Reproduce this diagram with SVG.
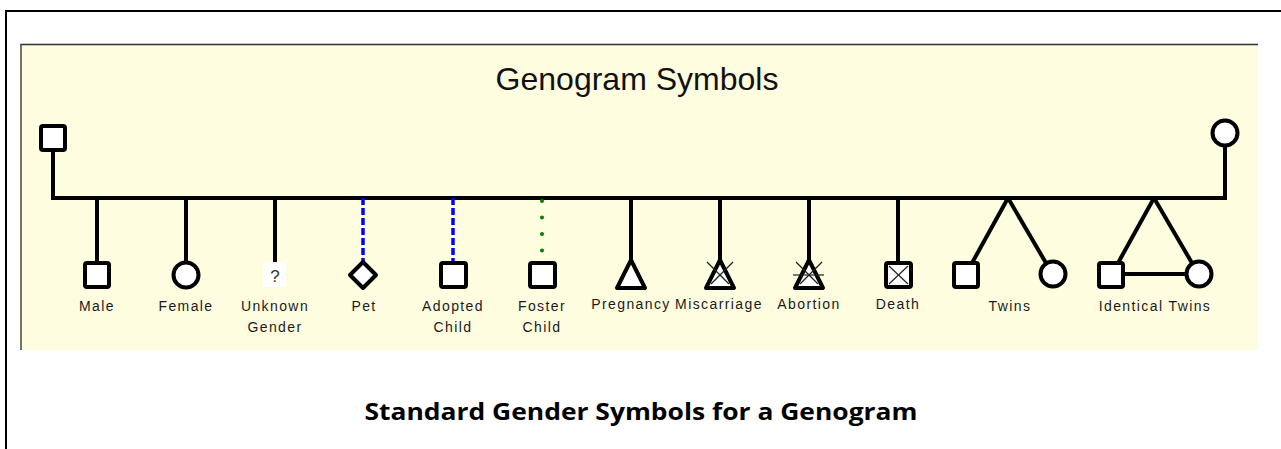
<svg xmlns="http://www.w3.org/2000/svg" width="1281" height="449" viewBox="0 0 1281 449">
<style>
.sym{fill:#ffffff;stroke:#000;stroke-width:4;stroke-linejoin:round}
.ln{stroke:#000;stroke-width:4;fill:none}
.thin{stroke:#222;stroke-width:1.2;fill:none}
.lbl{font-family:"Liberation Sans",Arial,sans-serif;font-size:14px;letter-spacing:1.4px;fill:#1a1a1a;text-anchor:middle}
</style>
<rect x="0" y="0" width="1281" height="449" fill="#ffffff"/>
<line x1="5" y1="11" x2="1281" y2="11" stroke="#000" stroke-width="2"/>
<line x1="6" y1="10" x2="6" y2="449" stroke="#000" stroke-width="2"/>
<rect x="20.5" y="44" width="1237.5" height="306" fill="#fffde0"/>
<line x1="20.5" y1="44.5" x2="1258" y2="44.5" stroke="#333" stroke-width="1.5"/>
<line x1="21" y1="44" x2="21" y2="350" stroke="#444" stroke-width="1.5"/>
<text x="637" y="90" font-family="Liberation Sans,Arial,sans-serif" font-size="32" fill="#111" text-anchor="middle">Genogram Symbols</text>

<g id="connectors">
<line class="ln" x1="53" y1="150" x2="53" y2="198"/>
<line class="ln" x1="1225" y1="146" x2="1225" y2="198"/>
<line class="ln" x1="51" y1="198" x2="1227" y2="198"/>
<line class="ln" x1="97" y1="198" x2="97" y2="262"/>
<line class="ln" x1="186" y1="198" x2="186" y2="262"/>
<line class="ln" x1="275" y1="198" x2="275" y2="262"/>
<line x1="363" y1="198" x2="363" y2="262" stroke="#0000ff" stroke-width="3.5" stroke-dasharray="7 3"/>
<line x1="453" y1="198" x2="453" y2="262" stroke="#0000ff" stroke-width="3.5" stroke-dasharray="7 3"/>
<line x1="542" y1="201" x2="542" y2="258" stroke="#008000" stroke-width="4" stroke-linecap="round" stroke-dasharray="0 16.5"/>
<line class="ln" x1="631" y1="198" x2="631" y2="260"/>
<line class="ln" x1="720" y1="198" x2="720" y2="260"/>
<line class="ln" x1="809" y1="198" x2="809" y2="260"/>
<line class="ln" x1="898" y1="198" x2="898" y2="262"/>
<line class="ln" x1="1008" y1="198" x2="972" y2="263"/>
<line class="ln" x1="1008" y1="198" x2="1046" y2="263"/>
<line class="ln" x1="1154" y1="198" x2="1118" y2="263"/>
<line class="ln" x1="1154" y1="198" x2="1192" y2="263"/>
<line class="ln" x1="1123" y1="274" x2="1186" y2="274"/>
</g>

<g id="father"><rect class="sym" x="41" y="126" width="24" height="24" rx="2"/></g>
<g id="mother"><circle class="sym" cx="1225" cy="133" r="12.5"/></g>

<g id="male">
<rect class="sym" x="85" y="263" width="24" height="24" rx="2"/>
<text class="lbl" x="97" y="311">Male</text>
</g>
<g id="female">
<circle class="sym" cx="186" cy="275" r="12.5"/>
<text class="lbl" x="186" y="311">Female</text>
</g>
<g id="unknown">
<rect x="263" y="262" width="23" height="25" fill="#ffffff"/>
<text x="275" y="282" font-family="Liberation Sans,Arial,sans-serif" font-size="17" fill="#333" text-anchor="middle">?</text>
<text class="lbl" x="275" y="311">Unknown</text>
<text class="lbl" x="275" y="332">Gender</text>
</g>
<g id="pet">
<path class="sym" d="M363 262 L376 275 L363 288 L350 275 Z"/>
<text class="lbl" x="364" y="311">Pet</text>
</g>
<g id="adopted">
<rect class="sym" x="441" y="263" width="25" height="24" rx="2"/>
<text class="lbl" x="453" y="311">Adopted</text>
<text class="lbl" x="453" y="332">Child</text>
</g>
<g id="foster">
<rect class="sym" x="530" y="263" width="25" height="24" rx="2"/>
<text class="lbl" x="542" y="311">Foster</text>
<text class="lbl" x="542" y="332">Child</text>
</g>
<g id="pregnancy">
<path class="sym" d="M631 260 L645 288 L617 288 Z"/>
<text class="lbl" x="631" y="309">Pregnancy</text>
</g>
<g id="miscarriage">
<path class="sym" d="M720 260 L734 288 L706 288 Z"/>
<line class="thin" x1="707" y1="262" x2="729" y2="284"/>
<line class="thin" x1="733" y1="262" x2="711" y2="284"/>
<text class="lbl" x="719" y="309">Miscarriage</text>
</g>
<g id="abortion">
<path class="sym" d="M809 260 L823 288 L795 288 Z"/>
<line class="thin" x1="796" y1="262" x2="818" y2="284"/>
<line class="thin" x1="822" y1="262" x2="800" y2="284"/>
<line class="thin" x1="793" y1="275" x2="824" y2="275"/>
<text class="lbl" x="809" y="309">Abortion</text>
</g>
<g id="death">
<rect class="sym" x="886" y="263" width="25" height="24" rx="2"/>
<line class="thin" x1="889" y1="266" x2="908" y2="284"/>
<line class="thin" x1="908" y1="266" x2="889" y2="284"/>
<text class="lbl" x="898" y="309">Death</text>
</g>
<g id="twins">
<rect class="sym" x="954" y="263" width="24" height="24" rx="2"/>
<circle class="sym" cx="1053" cy="274" r="12.5"/>
<text class="lbl" x="1010" y="311">Twins</text>
</g>
<g id="identical-twins">
<rect class="sym" x="1099" y="263" width="24" height="24" rx="2"/>
<circle class="sym" cx="1199" cy="274" r="12.5"/>
<text class="lbl" x="1155" y="311">Identical Twins</text>
</g>

<text x="641" y="420" font-family="Open Sans,Liberation Sans,sans-serif" font-weight="bold" font-size="23" fill="#000" text-anchor="middle" textLength="553" lengthAdjust="spacingAndGlyphs">Standard Gender Symbols for a Genogram</text>
</svg>
